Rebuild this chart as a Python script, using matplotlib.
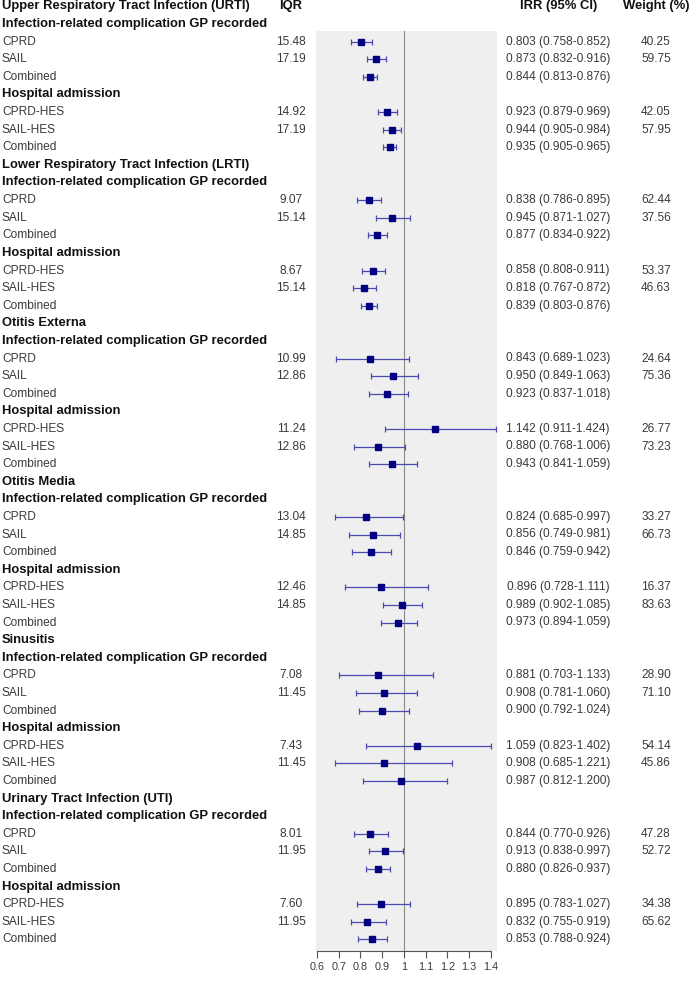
import matplotlib
matplotlib.use("Agg")
import matplotlib.pyplot as plt
from matplotlib.transforms import blended_transform_factory

plt.rcParams["font.family"] = ["Liberation Sans", "DejaVu Sans"]

diseases = ["Upper Respiratory Tract Infection (URTI)",
            "Lower Respiratory Tract Infection (LRTI)",
            "Otitis Externa", "Otitis Media", "Sinusitis",
            "Urinary Tract Infection (UTI)"]
outcomes = ["Infection-related complication GP recorded", "Hospital admission"]
studies = [["CPRD", "SAIL", "Combined"], ["CPRD-HES", "SAIL-HES", "Combined"]]

# one entry per study row, in order disease -> outcome -> study
iqr = [15.48, 17.19, None, 14.92, 17.19, None,
       9.07, 15.14, None, 8.67, 15.14, None,
       10.99, 12.86, None, 11.24, 12.86, None,
       13.04, 14.85, None, 12.46, 14.85, None,
       7.08, 11.45, None, 7.43, 11.45, None,
       8.01, 11.95, None, 7.60, 11.95, None]
irr = [0.803, 0.873, 0.844, 0.923, 0.944, 0.935,
       0.838, 0.945, 0.877, 0.858, 0.818, 0.839,
       0.843, 0.950, 0.923, 1.142, 0.880, 0.943,
       0.824, 0.856, 0.846, 0.896, 0.989, 0.973,
       0.881, 0.908, 0.900, 1.059, 0.908, 0.987,
       0.844, 0.913, 0.880, 0.895, 0.832, 0.853]
ci_lo = [0.758, 0.832, 0.813, 0.879, 0.905, 0.905,
         0.786, 0.871, 0.834, 0.808, 0.767, 0.803,
         0.689, 0.849, 0.837, 0.911, 0.768, 0.841,
         0.685, 0.749, 0.759, 0.728, 0.902, 0.894,
         0.703, 0.781, 0.792, 0.823, 0.685, 0.812,
         0.770, 0.838, 0.826, 0.783, 0.755, 0.788]
ci_hi = [0.852, 0.916, 0.876, 0.969, 0.984, 0.965,
         0.895, 1.027, 0.922, 0.911, 0.872, 0.876,
         1.023, 1.063, 1.018, 1.424, 1.006, 1.059,
         0.997, 0.981, 0.942, 1.111, 1.085, 1.059,
         1.133, 1.060, 1.024, 1.402, 1.221, 1.200,
         0.926, 0.997, 0.937, 1.027, 0.919, 0.924]
weight = [40.25, 59.75, None, 42.05, 57.95, None,
          62.44, 37.56, None, 53.37, 46.63, None,
          24.64, 75.36, None, 26.77, 73.23, None,
          33.27, 66.73, None, 16.37, 83.63, None,
          28.90, 71.10, None, 54.14, 45.86, None,
          47.28, 52.72, None, 34.38, 65.62, None]
xticks = [0.6, 0.7, 0.8, 0.9, 1, 1.1, 1.2, 1.3, 1.4]

W, H = 690, 982
fig = plt.figure(figsize=(W / 100, H / 100), dpi=100)

row0, step = 6.5, 17.6
top_px, bot_px = 31, 951
ax = fig.add_axes([316 / W, 1 - bot_px / H, (497 - 316) / W, (bot_px - top_px) / H])
ax.set_facecolor("#efefef")
ax.set_xlim(0.5954, 1.4276)
ax.set_ylim((bot_px - row0) / step, (top_px - row0) / step)

tr = blended_transform_factory(fig.transFigure, ax.transData)
fs = 8.6
fs_bold = 9.4
txt_col = "#3a3a3a"
head_col = "#111111"


def head(x, y, s, ha="left"):
    ax.text(x / W, y, s, transform=tr, fontsize=fs_bold, fontweight="bold",
            color=head_col, va="center", ha=ha, clip_on=False)


def cell(x, y, s, ha="center"):
    ax.text(x / W, y, s, transform=tr, fontsize=fs, color=txt_col,
            va="center", ha=ha, clip_on=False)


# column headers
head(2, 0, diseases[0])
head(291, 0, "IQR", "center")
head(559, 0, "IRR (95% CI)", "center")
head(656, 0, "Weight (%)", "center")

k = 0
for d, dis in enumerate(diseases):
    base = d * 9
    if d > 0:
        head(2, base, dis)
    for o, out in enumerate(outcomes):
        orow = base + 1 + o * 4
        head(2, orow, out)
        for s, st in enumerate(studies[o]):
            y = orow + 1 + s
            cell(2, y, st, "left")
            if iqr[k] is not None:
                cell(291, y, f"{iqr[k]:.2f}")
            cell(558, y, f"{irr[k]:.3f} ({ci_lo[k]:.3f}-{ci_hi[k]:.3f})")
            if weight[k] is not None:
                cell(656, y, f"{weight[k]:.2f}")
            ax.errorbar(irr[k], y, xerr=[[irr[k] - ci_lo[k]], [ci_hi[k] - irr[k]]],
                        fmt="none", ecolor="#4a4ab0", elinewidth=0.9, capsize=2.2,
                        capthick=0.9, zorder=2)
            ax.plot(irr[k], y, marker="s", color="#000080", markersize=4.4,
                    linestyle="none", zorder=3)
            k += 1

ax.axvline(1, color="#8a8a8a", linewidth=0.8, zorder=1)

for side in ["top", "right", "left"]:
    ax.spines[side].set_visible(False)
ax.spines["bottom"].set_bounds(0.6, 1.4)
ax.spines["bottom"].set_color("#555555")
ax.spines["bottom"].set_linewidth(0.8)
ax.set_yticks([])
ax.set_xticks(xticks)
ax.set_xticklabels([f"{t:g}" for t in xticks])
ax.tick_params(axis="x", direction="out", length=5, width=0.8, color="#555555",
               labelsize=7.8, labelcolor="#3a3a3a", pad=3)

fig.savefig("out.png", dpi=100)
